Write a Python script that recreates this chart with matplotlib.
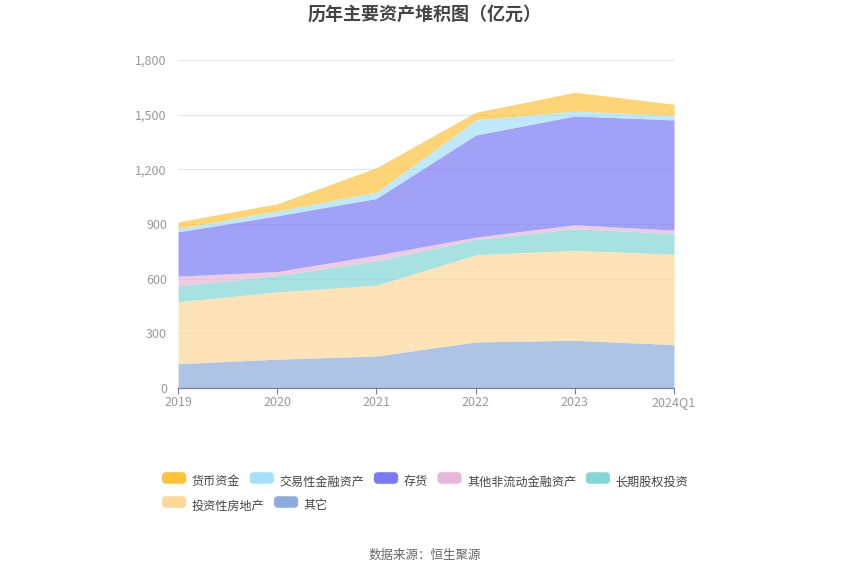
import numpy as np
import matplotlib
matplotlib.use("Agg")
import matplotlib.pyplot as plt
from matplotlib.patches import FancyBboxPatch
from matplotlib.legend_handler import HandlerPatch

plt.rcParams['font.family'] = ['Noto Sans CJK SC', 'DejaVu Sans']

years = ['2019', '2020', '2021', '2022', '2023', '2024Q1']

# 亿元 (bottom to top of the stack)
qita = [134, 158, 176, 253, 262, 238]          # 其它
touzi_fdc = [339, 369, 388, 478, 494, 496]     # 投资性房地产
changqi_gq = [87, 90, 134, 84, 118, 114]       # 长期股权投资
qita_fld = [54, 22, 31, 13, 22, 18]            # 其他非流动金融资产
cunhuo = [243, 306, 311, 560, 597, 605]        # 存货
jiaoyi_jr = [18, 27, 35, 83, 27, 25]           # 交易性金融资产
huobi = [37, 39, 134, 42, 103, 61]             # 货币资金

series = [
    ('其它', qita, '#8eacdb'),
    ('投资性房地产', touzi_fdc, '#fed89a'),
    ('长期股权投资', changqi_gq, '#84d5d6'),
    ('其他非流动金融资产', qita_fld, '#e6b7d8'),
    ('存货', cunhuo, '#7a7af4'),
    ('交易性金融资产', jiaoyi_jr, '#a5dff9'),
    ('货币资金', huobi, '#fdc33d'),
]


class RoundBox(HandlerPatch):
    def create_artists(self, legend, orig, xd, yd, w, h, fs, trans):
        p = FancyBboxPatch((xd, yd), w, h, boxstyle='round,pad=0,rounding_size=3',
                           facecolor=orig.get_facecolor(), edgecolor='none',
                           transform=trans)
        return [p]


fig = plt.figure(figsize=(8.5, 5.75), dpi=100)
ax = fig.add_axes([178/850, 187/575, 496/850, 328/575])

x = np.arange(len(years))
base = np.zeros(len(years))
handles = {}
for name, vals, col in series:
    top = base + np.array(vals)
    ax.fill_between(x, base, top, color=col, alpha=0.7, linewidth=0, zorder=2)
    handles[name] = plt.Rectangle((0, 0), 1, 1, facecolor=col, edgecolor='none')
    base = top

ax.set_xlim(0, len(years) - 1)
ax.set_ylim(0, 1800)
ax.set_yticks(np.arange(0, 1801, 300))
ax.set_yticklabels([f'{v:,}' for v in range(0, 1801, 300)])
ax.set_xticks(x)
ax.set_xticklabels(years)
ax.grid(axis='y', color='#e0e6f1', linewidth=0.8, zorder=0)
ax.set_axisbelow(True)
for s in ['top', 'right', 'left']:
    ax.spines[s].set_visible(False)
ax.spines['bottom'].set_color('#6e7f9a')
ax.tick_params(axis='y', length=0, labelsize=9, labelcolor='#999999', pad=8)
ax.tick_params(axis='x', length=4, color='#6e7f9a', labelsize=9, labelcolor='#999999', pad=2)

fig.text(0.5, 1 - 14/575, '历年主要资产堆积图（亿元）', ha='center', va='center',
         fontsize=13, fontweight='bold', color='#444444')

row1 = ['货币资金', '交易性金融资产', '存货', '其他非流动金融资产', '长期股权投资']
row2 = ['投资性房地产', '其它']
leg_kw = dict(frameon=False, fontsize=8.7, handlelength=2.0, handleheight=1.1,
              handletextpad=0.45, columnspacing=0.8, labelcolor='#444444',
              borderaxespad=0, borderpad=0, loc='center left',
              handler_map={plt.Rectangle: RoundBox()})
l1 = fig.legend([handles[n] for n in row1], row1, ncol=5,
                bbox_to_anchor=(162/850, 1 - 482/575), **leg_kw)
l2 = fig.legend([handles[n] for n in row2], row2, ncol=2,
                bbox_to_anchor=(162/850, 1 - 506/575), **leg_kw)

fig.text(0.5, 1 - 555/575, '数据来源：恒生聚源', ha='center', va='center',
         fontsize=9, color='#666666')

fig.savefig('out.png', dpi=100)
